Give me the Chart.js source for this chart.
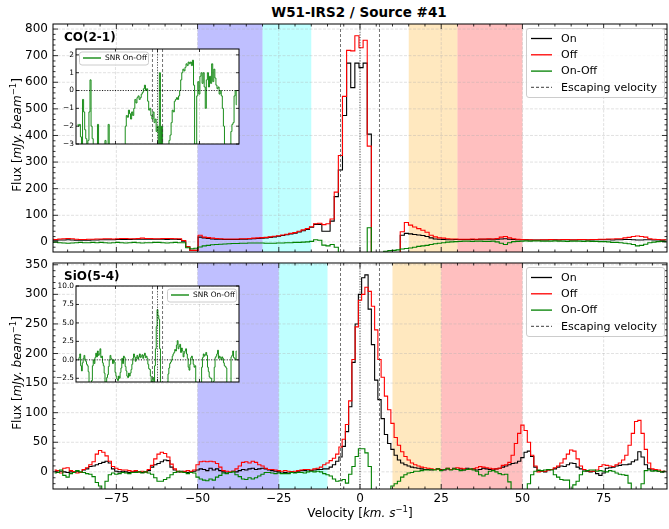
<!DOCTYPE html>
<html>
<head>
<meta charset="utf-8">
<script src="https://cdn.jsdelivr.net/npm/chart.js@4.4.1/dist/chart.umd.min.js"></script>
<style>
  body { margin: 0; background: #fff; width: 669px; height: 529px; position: relative; overflow: hidden; }
  canvas { position: absolute; }
  #title { position: absolute; left: 0; width: 718px; top: 4px; text-align: center;
           font: bold 13.5px 'DejaVu Sans', sans-serif; color: #000; }
</style>
</head>
<body>
<div id="title">W51-IRS2 / Source #41</div>
<canvas id="coMain" width="669" height="256" style="left:0;top:0"></canvas>
<canvas id="sioMain" width="669" height="273" style="left:0;top:256px"></canvas>
<canvas id="coInset" width="192" height="103" style="left:50px;top:44px"></canvas>
<canvas id="sioInset" width="192" height="104" style="left:50px;top:281px"></canvas>
<script>
const FONT = "'DejaVu Sans', sans-serif"

// ---- CO(2-1): channels of 1.27 km/s starting at -94.93 km/s
const CO_V0 = -94.93
const CO_DV = 1.27
const coOn = [
  6, 6, 7, 7, 8, 7, 6, 6, 6, 6,
  7, 7, 8, 8, 8, 8, 9, 9, 9, 9,
  10, 10, 10, 10, 10, 10, 10, 10, 9, 10,
  10, 9, 3, -18, -32, -32, 18, 15, 13, 11,
  10, 10, 9, 9, 9, 9, 10, 10, 11, 12,
  13, 14, 15, 17, 19, 21, 24, 27, 30, 33,
  37, 42, 47, 55, 66, 66, 40, 40, 78, 170,
  270, 475, 672, 580, 672, 655, 672, 405, -60, -60,
  -60, -60, -60, -60, -60, 25, 32, 30, 28, 26,
  24, 20, 15, 11, 10, 9, 8, 8, 9, 9,
  9, 9, 9, 9, 10, 10, 10, 10, 10, 11,
  12, 10, 9, 8, 8, 8, 7, 7, 7, 7,
  7, 8, 8, 7, 8, 8, 7, 7, 8, 8,
  7, 7, 8, 8, 8, 8, 7, 8, 8, 9,
  9, 8, 7, 7, 8, 8, 7, 7, 6, 7
]
const coOff = [
  10, 9, 11, 12, 13, 12, 10, 9, 9, 10,
  10, 11, 11, 12, 12, 11, 12, 13, 13, 12,
  12, 13, 14, 13, 13, 12, 12, 13, 13, 13,
  12, 12, 5, -18, -32, -32, 25, 18, 16, 14,
  13, 12, 11, 11, 11, 11, 12, 12, 13, 14,
  15, 16, 17, 19, 21, 23, 26, 29, 32, 35,
  40, 45, 50, 57, 68, 70, 65, 68, 86, 187,
  325, 547, 720, 718, 775, 730, 758, 360, -60, -60,
  -60, -60, -60, -60, -60, 38, 73, 63, 56, 50,
  44, 36, 25, 19, 15, 14, 12, 11, 11, 10,
  10, 10, 11, 10, 11, 11, 12, 11, 13, 18,
  20, 15, 12, 10, 9, 8, 8, 7, 7, 8,
  8, 9, 8, 8, 9, 9, 8, 8, 9, 9,
  8, 9, 9, 10, 10, 11, 11, 12, 12, 15,
  17, 20, 22, 20, 18, 12, 10, 9, 8, 8
]
const coDiff = [
  -2, -1, -3, -4, -5, -4, -3, -2, -3, -3,
  -2, -3, -2, -3, -4, -3, -2, -3, -4, -3,
  -2, -3, -4, -3, -3, -2, -2, -3, -4, -3,
  -2, -3, -3, -22, -26, -24, -19, -15, -13, -11,
  -10, -9, -8, -7, -6, -6, -5, -5, -4, -4,
  -4, -4, -5, -5, -5, -4, -4, -3, -3, -2,
  -2, -1, 0, 2, 8, 6, -12, -15, -10, -20,
  -60, -70, -50, -140, -100, -75, -85, 53, -60, -60,
  -60, -35, -33, -32, -30, -27, -25, -23, -20, -17,
  -15, -13, -10, -7, -5, -3, -1, 0, 1, 2,
  3, 3, 2, 3, 3, 2, 2, 3, 0, -5,
  -10, -3, 1, 2, 3, 4, 3, 4, 4, 3,
  3, 3, 4, 3, 3, 2, 3, 3, 3, 2,
  3, 2, 2, 1, 1, 0, -2, -2, -3, -5,
  -7, -10, -15, -13, -9, -3, -1, 1, 2, 1
]
const coSnr = [
  -1.9, -2.0, -1.9, -2.6, -3.5, -0.5, -1.2, -2.2, -2.7, -3.2,
  -2.8, -1.2, 0.6, -2.0, -2.7, -3.2, -3.5, -3.3, -3.5, -1.9,
  -3.2, -3.5, -3.5, -3.3, -3.5, -3.3, -2.8, -3.5, -3.5, -1.9,
  -3.2, -3.5, -3.5, -3.5, -3.5, -3.5, -3.5, -3.5, -3.5, -3.5,
  -3.5, -3.5, -3.5, -3.5, -3.5, -2.0, -1.4, -1.5, -1.1, -1.3,
  -1.6, -1.2, -1.4, -1.0, -0.5, -0.7, -0.4, -0.3, -0.5, -0.4,
  -0.2, -0.1, 0.1, 0.3, 0.0, 0.1, -0.6, -1.1, -1.0, -1.4,
  -1.6, -1.2, -1.8, -1.6, -2.3, -2.0, -3.5, 1.0, -3.5, -2.0,
  -3.5, -3.5, -3.5, -3.5, -3.5, -3.3, -2.8, -2.5, -1.8, -1.1,
  -1.2, -0.6, -0.5, -0.4, -0.5, -0.3, 0.0, 0.6, 1.0, 1.2,
  1.1, 1.3, 1.5, 1.4, 1.6, 1.5, 1.6, 1.4, 1.7, 0.3,
  -3.0, -3.5, -0.3, 0.5, -0.2, 0.8, 1.0, 0.4, 1.0, 0.2,
  -1.0, 0.6, 1.0, 0.2, 0.8, 0.4, 1.5, 0.5, 1.2, 0.7,
  0.3, 0.1, 0.2, -0.2, 0.0, -0.3, -1.0, -2.0, -3.5, -3.5,
  -3.5, -3.5, -3.5, -3.5, -2.3, -1.9, -1.8, -0.3, 0.0, -0.8
]

// ---- SiO(5-4): channels of 1 km/s from -94 to 94 km/s
const SIO_V0 = -94
const SIO_DV = 1
const sioOn = [
  1, 2, 1, 0, -1, 0, 0, 1, -1, 3,
  5, 9, 10, 12, 14, 16, 18, 15, 5, 1,
  0, 1, 0, -1, 0, 1, 0, -1, 0, 2,
  8, 12, 14, 17, 20, 19, 8, 3, 0, 1,
  0, -1, 0, 1, 3, 5, 4, 2, 6, 3,
  5, 2, 0, -2, -1, 1, 0, 2, 4, 3,
  5, 6, 4, 5, 6, 5, 3, 2, 1, 0,
  -2, -1, -2, 0, -1, 1, 2, 2, 3, 2,
  3, 4, 4, 5, 5, 8, 12, 18, 25, 43,
  68, 110, 185, 250, 300, 328, 333, 275, 215, 155,
  122, 90, 63, 48, 38, 28, 20, 15, 12, 10,
  8, 7, 6, 5, 4, 4, 3, 4, 5, 4,
  3, 5, 4, 6, 4, 5, 3, 6, 4, 5,
  3, 4, 6, 5, 4, 3, 5, 6, 8, 10,
  12, 14, 15, 18, 24, 33, 35, 26, 8, 2,
  1, 0, 3, 4, 5, 8, 10, 9, 12, 15,
  14, 8, 5, 3, 1, 0, 1, -3, -6, -2,
  6, 7, 8, 10, 11, 12, 12, 13, 17, 20,
  34, 25, 12, 5, 3, 2, 1, 0, 1
]
const sioOff = [
  3, 2, -2, 6, 7, 2, 0, -2, -1, 4,
  7, 12, 17, 30, 36, 33, 27, 18, 9, 6,
  4, 3, 3, 2, 1, 2, 0, 1, 0, 4,
  11, 22, 30, 33, 31, 25, 13, 5, 1, 0,
  1, 2, 1, 3, 12, 17, 18, 17, 18, 17,
  14, 8, 2, 1, 0, 1, 5, 10, 16, 17,
  15, 18, 16, 12, 10, 6, 4, 4, 3, 2,
  1, 2, 1, 0, 1, 2, 3, 4, 4, 3,
  5, 6, 8, 12, 15, 19, 23, 30, 42, 55,
  80, 120, 190, 245, 290, 300, 312, 305, 280, 240,
  190, 160, 128, 105, 82, 58, 45, 34, 26, 20,
  15, 12, 10, 8, 7, 6, 5, 4, 5, 3,
  4, 6, 4, 5, 7, 6, 5, 4, 4, 5,
  7, 9, 8, 7, 6, 5, 5, 6, 11, 12,
  16, 28, 48, 65, 79, 70, 50, 28, 10, 0,
  1, 1, 3, 4, 7, 10, 15, 22, 30, 37,
  35, 22, 10, 4, 2, 1, 1, 3, 9, 12,
  11, 10, 9, 12, 15, 20, 28, 45, 65, 85,
  87, 65, 38, 15, 5, 4, 3, 1, 1
]
const sioDiff = [
  -2, -1, 3, -6, -9, -3, -1, 2, 0, -1,
  -3, -4, -8, -18, -24, -35, -16, -5, -2, -4,
  -3, -1, -2, -3, -1, -1, 0, -2, 0, -2,
  -4, -10, -16, -16, -13, -10, -5, -1, 1, 0,
  -1, -3, -1, -2, -9, -12, -14, -15, -12, -14,
  -9, -6, -2, -3, -1, 0, -5, -8, -12, -13,
  -10, -12, -10, -7, -4, -1, -1, -2, -3, -2,
  -3, -3, -3, -1, -2, -1, -1, -2, 0, 1,
  0, 1, 0, -3, -5, -7, -12, -16, -15, -13,
  -19, -4, 9, 26, 39, 39, 32, 9, -40, -40,
  -40, -40, -40, -40, -24, -20, -16, -9, -5, -2,
  -1, 1, 1, 2, 3, 3, 4, 3, 5, 2,
  4, 6, 3, 5, 4, 2, 3, 4, 5, 3,
  1, -5, -7, -4, 1, 2, 0, -3, -5, -4,
  -17, -35, -35, -35, -35, -35, -20, -5, 1, 3,
  2, 3, 4, 3, -5, -9, -13, -14, -14, -30,
  -22, -16, -5, 1, 2, 3, 3, 1, 2, 1,
  0, 2, 1, -2, -4, -5, -6, -19, -30, -35,
  -35, -20, 2, 3, 1, 2, 1, 0, 1
]
const sioSnr = [
  0.0, 0.3, 0.8, -0.8, -1.5, -0.4, 0.2, 0.6, 0.1, -0.2,
  -0.6, -0.8, -1.6, -3.2, -3.5, -3.5, -2.8, -0.8, 0.0, -0.5,
  0.3, 0.9, 0.4, 1.2, 0.6, 0.8, 1.5, 0.3, 0.5, -0.4,
  -0.8, -1.8, -3.0, -3.2, -2.4, -2.0, -0.9, 0.0, 0.6, 0.2,
  0.0, -0.5, 0.0, -0.3, -1.7, -2.2, -2.6, -2.8, -2.2, -2.5,
  -1.7, -1.1, 0.2, -0.5, 0.5, 0.3, -0.9, -1.5, -2.2, -2.4,
  -1.8, -2.2, -1.8, -1.3, -0.6, 0.2, 0.8, 0.4, -0.2, 0.3,
  0.6, 0.1, 0.4, 0.8, 0.3, 0.5, 0.7, 0.2, 0.6, 0.9,
  0.3, 0.5, 0.2, -0.6, -1.2, -1.3, -2.2, -3.0, -2.7, -2.4,
  -3.4, -0.8, 1.5, 4.5, 6.8, 6.0, 5.5, 1.5, -3.5, -3.5,
  -3.5, -3.5, -3.5, -3.5, -3.5, -3.5, -3.0, -1.9, -1.1, -0.5,
  -0.3, 0.0, 0.5, 0.8, 1.0, 1.4, 1.2, 2.0, 2.6, 1.5,
  1.8, 2.1, 1.0, 1.6, 1.2, 0.4, 0.9, 1.2, 1.5, 0.8,
  0.2, -1.0, -1.4, -0.6, 0.3, 0.5, 0.0, -0.6, -1.0, -0.8,
  -3.0, -3.5, -3.5, -3.5, -3.5, -3.5, -3.5, -1.0, 0.3, 0.8,
  0.5, 0.7, 1.0, 0.6, -1.0, -1.6, -2.3, -2.5, -2.5, -3.5,
  -3.5, -2.9, -1.0, 0.3, 0.5, 0.8, 1.3, 0.2, 0.5, 0.3,
  0.0, 0.4, 0.2, -0.4, -0.8, -0.9, -1.1, -3.3, -3.5, -3.5,
  -3.5, -3.5, 0.4, 0.6, 1.2, 0.3, 0.2, 0.0, 1.2
]

// velocity ranges of the shaded windows (blue, cyan, orange, red)
const coBands = [[-50, -30], [-30, -15], [15, 30], [30, 50]]
const sioBands = [[-50, -25], [-25, -10], [10, 25], [25, 50]]
const escapeVel = [-6, 6]

// tick labels
const velTicks = [-75, -50, -25, 0, 25, 50, 75]
const coFluxTicks = [0, 100, 200, 300, 400, 500, 600, 700, 800]
const sioFluxTicks = [0, 50, 100, 150, 200, 250, 300, 350]
const coSnrTicks = [-3, -2, -1, 0, 1, 2]
const sioSnrTicks = [-2.5, 0, 2.5, 5, 7.5, 10]
const insetVelTicks = [-50, 0, 50]

const bandColors = ['rgba(0,0,255,0.25)', 'rgba(0,255,255,0.25)', 'rgba(255,165,0,0.25)', 'rgba(255,0,0,0.25)']

const channels = (v0, dv, n) => Array.from({ length: n }, (_, i) => +(v0 + i * dv).toFixed(3))
const coVel = channels(CO_V0, CO_DV, coOn.length)
const sioVel = channels(SIO_V0, SIO_DV, sioOn.length)
const pts = (vel, vals) => vals.map((v, i) => ({ x: vel[i], y: v }))
const minus = s => String(s).replace('-', '\u2212')

function line(ctx, x0, y0, x1, y1) {
  ctx.beginPath(); ctx.moveTo(x0, y0); ctx.lineTo(x1, y1); ctx.stroke()
}

function richText(ctx, parts, cx, cy, rotate) {
  ctx.save()
  ctx.translate(cx, cy)
  if (rotate) ctx.rotate(-Math.PI / 2)
  ctx.fillStyle = '#000'
  ctx.textBaseline = 'alphabetic'
  ctx.textAlign = 'left'
  let w = 0
  parts.forEach(p => { ctx.font = p.font; p.w = ctx.measureText(p.text).width; w += p.w })
  let xx = -w / 2
  parts.forEach(p => { ctx.font = p.font; ctx.fillText(p.text, xx, 4 + (p.rise || 0)); xx += p.w })
  ctx.restore()
}

//fixed axis boxes, no extra room for overflowing tick labels
const fixWidth = w => s => { s.width = w; s.paddingTop = 0; s.paddingBottom = 0 }
const fixHeight = h => s => { s.height = h; s.paddingLeft = 0; s.paddingRight = 0 }

//draws the matplotlib-like decorations: spans, grid, in-pointing ticks, frame, legend
const decor = {
  id: 'decor',
  beforeDatasetsDraw(chart, args, o) {
    const { ctx, chartArea: a, scales: { x, y } } = chart
    ctx.save()
    ctx.beginPath(); ctx.rect(a.left, a.top, a.width, a.height); ctx.clip()
    if (o.background) { ctx.fillStyle = o.background; ctx.fillRect(a.left, a.top, a.width, a.height) }
    ;(o.bands || []).forEach((b, i) => {
      const p0 = x.getPixelForValue(b[0]), p1 = x.getPixelForValue(b[1])
      ctx.fillStyle = bandColors[i]
      ctx.fillRect(p0, a.top, p1 - p0, a.height)
    })
    ctx.lineWidth = 0.8
    ctx.strokeStyle = 'rgba(170,170,170,0.45)'
    ctx.setLineDash([3, 1.5])
    x.ticks.forEach(t => { const p = x.getPixelForValue(t.value); line(ctx, p, a.top, p, a.bottom) })
    y.ticks.forEach(t => { const p = y.getPixelForValue(t.value); line(ctx, a.left, p, a.right, p) })
    ctx.restore()
  },
  afterDatasetsDraw(chart, args, o) {
    const { ctx, chartArea: a, scales: { x, y } } = chart
    ctx.save()
    ctx.beginPath(); ctx.rect(a.left, a.top, a.width, a.height); ctx.clip()
    ctx.lineWidth = 0.9
    ctx.strokeStyle = 'rgba(60,60,60,0.8)'
    ctx.setLineDash([3, 2])
    escapeVel.forEach(v => { const p = x.getPixelForValue(v); line(ctx, p, a.top, p, a.bottom) })
    ctx.strokeStyle = 'rgba(0,0,0,0.8)'
    ctx.setLineDash([1, 1.6])
    const p0 = x.getPixelForValue(0)
    line(ctx, p0, a.top, p0, a.bottom)
    if (o.zeroLine) {
      const q = y.getPixelForValue(0)
      ctx.strokeStyle = '#000'
      line(ctx, a.left, q, a.right, q)
    }
    ctx.restore()
  },
  afterDraw(chart, args, o) {
    const { ctx, chartArea: a, scales: { x, y } } = chart
    ctx.save()
    ctx.setLineDash([])
    ctx.strokeStyle = '#000'
    ctx.lineWidth = 0.8
    const [majL, minL] = o.tickLen
    const minors = (s, step) => {
      const out = []
      if (!step) return out
      for (let k = Math.ceil(s.min / step); k * step <= s.max; k++) {
        const v = k * step
        if (!s.ticks.some(t => Math.abs(t.value - v) < 1e-6)) out.push(v)
      }
      return out
    }
    const xt = (v, len) => { const p = x.getPixelForValue(v); line(ctx, p, a.bottom, p, a.bottom - len); line(ctx, p, a.top, p, a.top + len) }
    const yt = (v, len) => { const p = y.getPixelForValue(v); line(ctx, a.left, p, a.left + len, p); line(ctx, a.right, p, a.right - len, p) }
    x.ticks.forEach(t => xt(t.value, majL))
    y.ticks.forEach(t => yt(t.value, majL))
    minors(x, o.minorX).forEach(v => xt(v, minL))
    minors(y, o.minorY).forEach(v => yt(v, minL))
    ctx.lineWidth = 1
    ctx.strokeRect(a.left, a.top, a.width, a.height)

    if (o.label) {
      ctx.font = 'bold 12px ' + FONT
      ctx.fillStyle = '#000'
      ctx.textBaseline = 'middle'
      ctx.fillText(o.label, a.left + 11, a.top + 14)
    }

    if (o.legend) {
      const g = o.legend
      const bx = g.side === 'right' ? a.right - g.dx - g.w : a.left + g.dx
      const by = a.top + g.dy
      ctx.fillStyle = 'rgba(255,255,255,0.8)'
      ctx.strokeStyle = '#cccccc'
      ctx.lineWidth = 1
      ctx.beginPath(); ctx.roundRect(bx + 0.5, by + 0.5, g.w, g.h, 2.5); ctx.fill(); ctx.stroke()
      const items = chart.data.datasets.map(d => ({ label: d.label, color: d.borderColor, dash: [] }))
      if (g.escape) items.push({ label: 'Escaping velocity', color: 'rgba(60,60,60,0.8)', dash: [3, 2] })
      ctx.font = g.font
      ctx.textBaseline = 'middle'
      items.forEach((it, i) => {
        const cy = by + g.first + g.row * i
        ctx.strokeStyle = it.color
        ctx.lineWidth = g.lw
        ctx.setLineDash(it.dash)
        line(ctx, bx + g.l0, cy, bx + g.l1, cy)
        ctx.fillStyle = '#000'
        ctx.fillText(it.label, bx + g.tx, cy + 0.5)
      })
      ctx.setLineDash([])
    }

    if (o.yTitle) richText(ctx, o.yTitle, 17, (a.top + a.bottom) / 2 - 3, true)
    if (o.xTitle) richText(ctx, o.xTitle, (a.left + a.right) / 2, a.bottom + 24, false)
    ctx.restore()
  }
}

const fluxTitle = [
  { text: 'Flux [', font: '12px ' + FONT },
  { text: 'mJy. beam', font: 'italic 12px ' + FONT },
  { text: '\u22121', font: '8.5px ' + FONT, rise: -5 },
  { text: ']', font: '12px ' + FONT }
]
const velTitle = [
  { text: 'Velocity [', font: '12px ' + FONT },
  { text: 'km. s', font: 'italic 12px ' + FONT },
  { text: '\u22121', font: '8.5px ' + FONT, rise: -5 },
  { text: ']', font: '12px ' + FONT }
]

const mainLegend = { side: 'right', dx: 3, dy: 4, w: 138, h: 69, first: 10.5, row: 16.3, l0: 5, l1: 26, tx: 35, lw: 1.3, font: '11px ' + FONT, escape: true }

function spectrum(id, vel, on, off, diff, conf) {
  const ds = (label, color, vals, order) => ({
    label: label, data: pts(vel, vals), borderColor: color, borderWidth: 1.1,
    stepped: 'middle', pointRadius: 0, fill: false, order: order, clip: 0
  })
  new Chart(document.getElementById(id), {
    type: 'line',
    data: { datasets: [ds('On', '#000000', on, 3), ds('Off', '#ff0000', off, 2), ds('On-Off', '#008000', diff, 1)] },
    options: {
      responsive: false, animation: false,
      layout: { padding: conf.padding },
      plugins: {
        legend: { display: false }, tooltip: { enabled: false },
        decor: {
          bands: conf.bands, label: conf.label, legend: mainLegend, tickLen: [5, 2.5],
          minorX: 5, minorY: conf.minorY, yTitle: fluxTitle, xTitle: conf.xTitle
        }
      },
      scales: {
        x: {
          type: 'linear', min: -94.5, max: 94.5,
          afterBuildTicks: s => { s.ticks = velTicks.map(v => ({ value: v })) },
          afterFit: fixHeight(conf.xHeight),
          grid: { display: false, drawTicks: false }, border: { display: false },
          ticks: { display: conf.showX, autoSkip: false, maxRotation: 0, padding: 3, color: '#000',
                   font: { family: FONT, size: 12 }, callback: v => minus(v) }
        },
        y: {
          type: 'linear', min: conf.yMin, max: conf.yMax,
          afterBuildTicks: s => { s.ticks = conf.yTicks.map(v => ({ value: v })) },
          afterFit: fixWidth(53),
          grid: { display: false, drawTicks: false }, border: { display: false },
          ticks: { padding: 5, color: '#000', font: { family: FONT, size: 12 }, callback: v => minus(v) }
        }
      }
    },
    plugins: [decor]
  })
}

function snrInset(id, vel, snr, conf) {
  new Chart(document.getElementById(id), {
    type: 'line',
    data: { datasets: [{ label: 'SNR On-Off', data: pts(vel, snr), borderColor: '#008000', borderWidth: 0.9,
                         stepped: 'middle', pointRadius: 0, fill: false, clip: 0 }] },
    options: {
      responsive: false, animation: false,
      layout: { padding: { top: 5, right: 3, bottom: 3, left: 0 } },
      plugins: {
        legend: { display: false }, tooltip: { enabled: false },
        decor: {
          background: '#ffffff', zeroLine: true, tickLen: [3, 0],
          legend: { side: conf.legendSide, dx: 3, dy: 2.5, w: 69, h: 13, first: 6.5, row: 12, l0: 4, l1: 22,
                    tx: 26, lw: 1.3, font: '7.4px ' + FONT, escape: false }
        }
      },
      scales: {
        x: {
          type: 'linear', min: -97, max: 97,
          afterBuildTicks: s => { s.ticks = insetVelTicks.map(v => ({ value: v })) },
          afterFit: fixHeight(0),
          grid: { display: false, drawTicks: false }, border: { display: false },
          ticks: { display: false }
        },
        y: {
          type: 'linear', min: conf.yMin, max: conf.yMax,
          afterBuildTicks: s => { s.ticks = conf.yTicks.map(v => ({ value: v })) },
          afterFit: fixWidth(26),
          grid: { display: false, drawTicks: false }, border: { display: false },
          ticks: { padding: 2, color: '#000', font: { family: FONT, size: 7.4 },
                   callback: v => minus(conf.decimals ? Number(v).toFixed(1) : v) }
        }
      }
    },
    plugins: [decor]
  })
}

spectrum('coMain', coVel, coOn, coOff, coDiff, {
  padding: { top: 24, right: 2, bottom: 4, left: 0 }, xHeight: 0, showX: false,
  yMin: -38, yMax: 819, yTicks: coFluxTicks, minorY: 20, bands: coBands, label: 'CO(2-1)'
})
spectrum('sioMain', sioVel, sioOn, sioOff, sioDiff, {
  padding: { top: 7, right: 2, bottom: 0, left: 0 }, xHeight: 40, showX: true,
  yMin: -29, yMax: 353, yTicks: sioFluxTicks, minorY: 10, bands: sioBands, label: 'SiO(5-4)',
  xTitle: velTitle
})
snrInset('coInset', coVel, coSnr, { yMin: -3, yMax: 2.33, yTicks: coSnrTicks, decimals: false, legendSide: 'left' })
snrInset('sioInset', sioVel, sioSnr, { yMin: -3, yMax: 10, yTicks: sioSnrTicks, decimals: true, legendSide: 'right' })
</script>
</body>
</html>
